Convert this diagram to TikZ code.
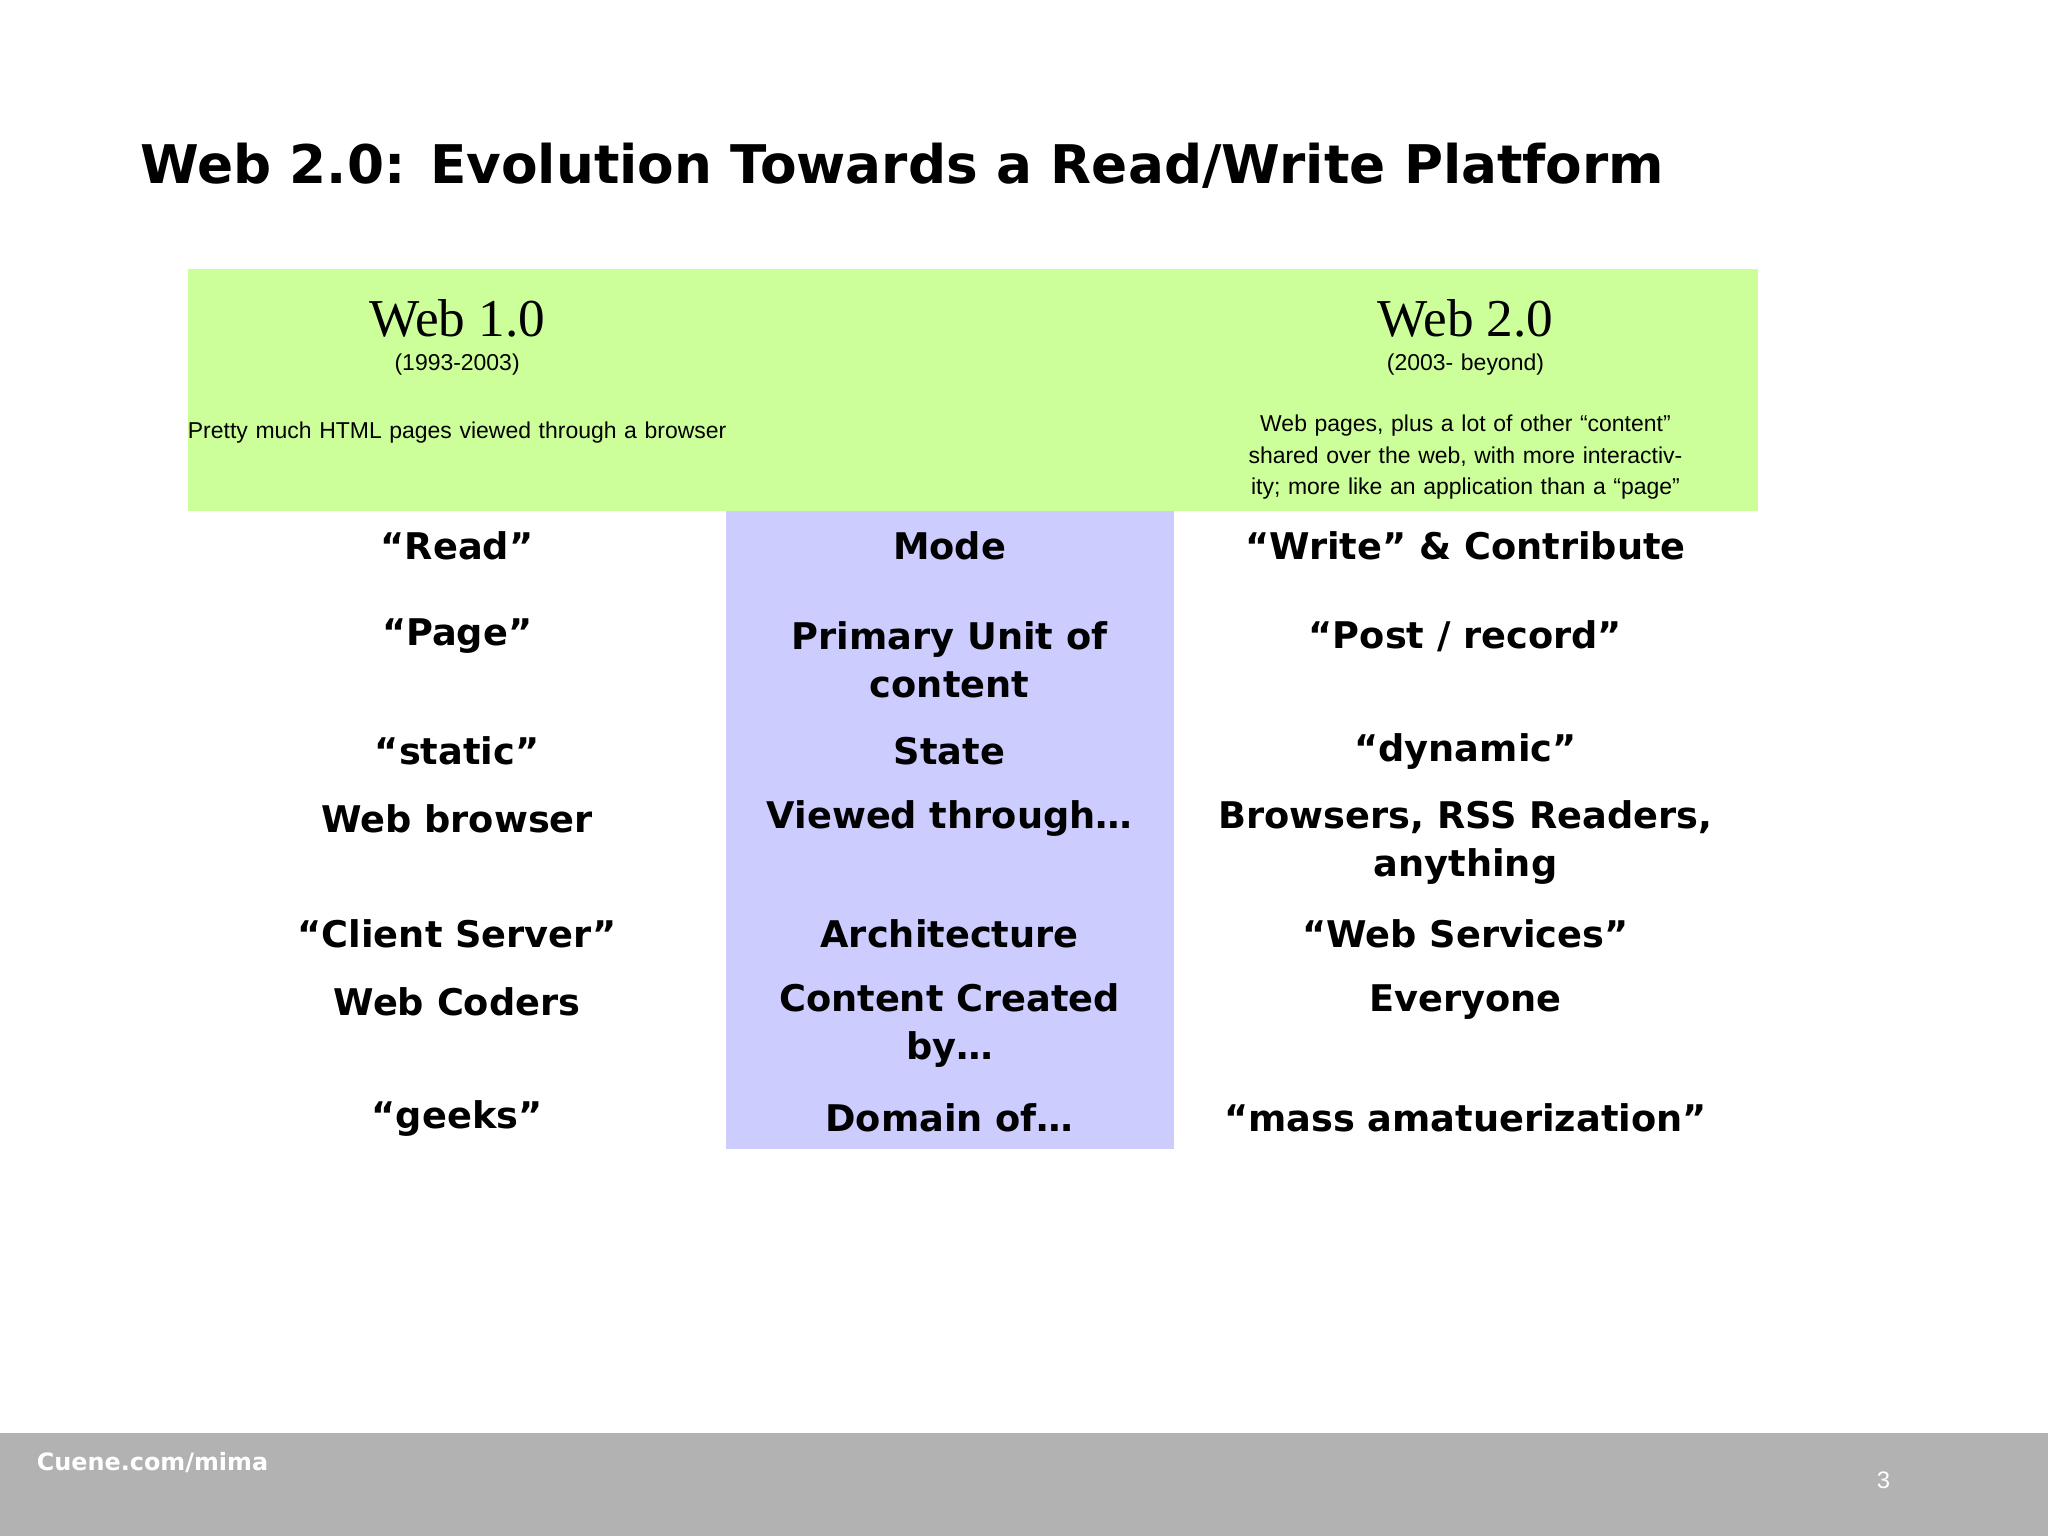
\documentclass[tikz,border=0pt]{standalone}
\usepackage{fontspec}
\setmainfont{DejaVu Sans}
\newfontfamily\serifw{Liberation Serif}
\newfontfamily\narrow{Liberation Sans}
\definecolor{grn}{HTML}{CCFF99}
\definecolor{blu}{HTML}{CCCCFF}
\definecolor{foot}{HTML}{B2B2B2}
\begin{document}
\begin{tikzpicture}[x=0.025cm,y=-0.025cm,
  cell/.style={font=\fontsize{20}{26}\selectfont\bfseries,align=center,inner sep=0pt},
  small/.style={font=\narrow\fontsize{12.5}{17}\selectfont,align=center,inner sep=0pt,text width=10.6cm}]
\useasboundingbox (0,0) rectangle (1568,1176);
\fill[white] (0,0) rectangle (1568,1176);
\node[anchor=west,inner sep=0pt,font=\fontsize{29}{34}\selectfont\bfseries] (title) at (107,127) {Web 2.0: Evolution Towards a Read/Write Platform};
\fill[grn] (144,206) rectangle (1346,391);
\fill[blu] (556,391) rectangle (899,880);
\node[inner sep=0pt,font=\serifw\fontsize{29}{34}\selectfont] (w1) at (350,244) {Web 1.0};
\node[small] (d1) at (350,279) {(1993-2003)};
\node[small] (t1) at (350,331) {Pretty much HTML pages viewed through a browser};
\node[inner sep=0pt,font=\serifw\fontsize{29}{34}\selectfont] (w2) at (1122,244) {Web 2.0};
\node[small] (d2) at (1122,279) {(2003- beyond)};
\node[small] (t2) at (1122,350) {Web pages, plus a lot of other “content” shared over the web, with more interactivity; more like an application than a “page”};
% rows
\node[cell] (l1) at (350,418) {“Read”};
\node[cell] (m1) at (727,418) {Mode};
\node[cell] (r1) at (1122,418) {“Write” \& Contribute};
\node[cell] (l2) at (350,487) {“Page”};
\node[cell] (m2) at (727,505) {Primary Unit of\\content};
\node[cell] (r2) at (1122,487) {“Post / record”};
\node[cell] (l3) at (350,575) {“static”};
\node[cell] (m3) at (727,575) {State};
\node[cell] (r3) at (1122,575) {“dynamic”};
\node[cell] (l4) at (350,627) {Web browser};
\node[cell] (m4) at (727,627) {Viewed through…};
\node[cell] (r4) at (1122,645) {Browsers, RSS Readers,\\anything};
\node[cell] (l5) at (350,715) {“Client Server”};
\node[cell] (m5) at (727,715) {Architecture};
\node[cell] (r5) at (1122,715) {“Web Services”};
\node[cell] (l6) at (350,767) {Web Coders};
\node[cell] (m6) at (727,785) {Content Created\\by…};
\node[cell] (r6) at (1122,767) {Everyone};
\node[cell] (l7) at (350,856) {“geeks”};
\node[cell] (m7) at (727,856) {Domain of…};
\node[cell] (r7) at (1122,856) {“mass amatuerization”};
% footer
\fill[foot] (0,1097) rectangle (1568,1176);
\node[anchor=west,inner sep=0pt,text=white,font=\fontsize{13}{15}\selectfont\bfseries] (ft) at (28,1120) {Cuene.com/mima};
\node[inner sep=0pt,text=white,font=\narrow\fontsize{13}{15}\selectfont] (pg) at (1442,1133) {3};
\end{tikzpicture}
\end{document}
